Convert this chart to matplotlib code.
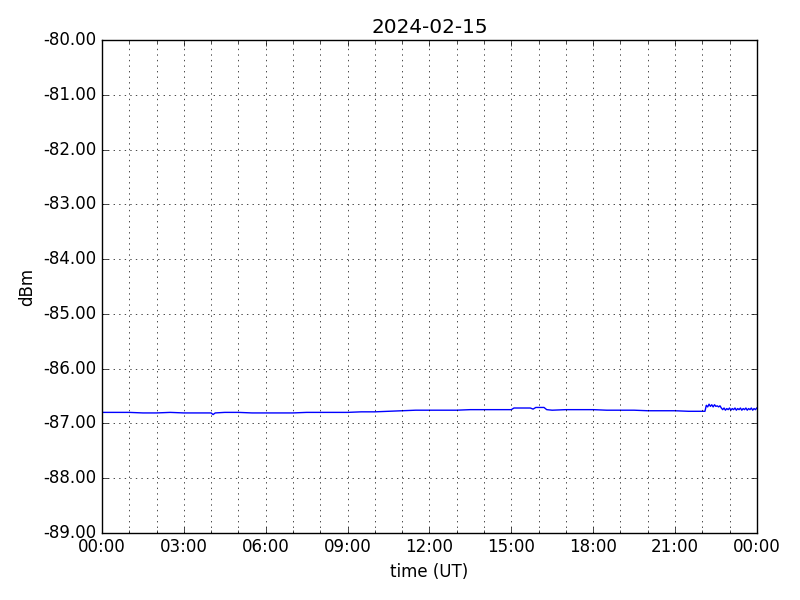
import matplotlib
matplotlib.use("Agg")
import matplotlib.pyplot as plt
import matplotlib.dates as mdates
from matplotlib.ticker import FormatStrFormatter
import pandas as pd

day = "2024-02-15"

# hours since 00:00 UT and received level (dBm)
hours = [0.0, 0.5, 1.0, 1.5, 2.0, 2.5, 3.0, 3.5, 4.0, 4.07, 4.15, 4.5,
         5.0, 5.5, 6.0, 6.5, 7.0, 7.5, 8.0, 8.5, 9.0, 9.5, 10.0, 10.5,
         11.0, 11.5, 12.0, 12.5, 13.0, 13.5, 14.0, 14.5, 15.0, 15.1, 15.5,
         15.7, 15.8, 15.9, 16.2, 16.3, 16.5, 17.0, 17.5, 18.0, 18.5, 19.0,
         19.5, 20.0, 20.5, 21.0, 21.5, 22.0, 22.1, 22.15, 22.2, 22.25,
         22.3, 22.35, 22.4, 22.45, 22.5, 22.55, 22.6, 22.65, 22.7, 22.75,
         22.8, 22.85, 22.9, 22.95, 23.0, 23.05, 23.1, 23.15, 23.2, 23.25,
         23.3, 23.35, 23.4, 23.45, 23.5, 23.55, 23.6, 23.65, 23.7, 23.75,
         23.8, 23.85, 23.9, 23.95, 24.0]
level = [-86.80, -86.80, -86.80, -86.81, -86.81, -86.80, -86.81, -86.81,
         -86.81, -86.84, -86.81, -86.80, -86.80, -86.81, -86.81, -86.81,
         -86.81, -86.80, -86.80, -86.80, -86.80, -86.79, -86.79, -86.78,
         -86.77, -86.76, -86.76, -86.76, -86.76, -86.75, -86.75, -86.75,
         -86.75, -86.72, -86.72, -86.72, -86.74, -86.71, -86.71, -86.75,
         -86.76, -86.75, -86.75, -86.75, -86.76, -86.76, -86.76, -86.77,
         -86.77, -86.77, -86.78, -86.78, -86.78, -86.67, -86.70, -86.65,
         -86.69, -86.66, -86.70, -86.66, -86.69, -86.68, -86.70, -86.68,
         -86.72, -86.75, -86.72, -86.76, -86.73, -86.75, -86.72, -86.76,
         -86.73, -86.75, -86.72, -86.76, -86.73, -86.75, -86.72, -86.76,
         -86.73, -86.75, -86.72, -86.76, -86.73, -86.75, -86.72, -86.76,
         -86.73, -86.75, -86.72]

plt.style.use("classic")
t0 = pd.Timestamp(day)
times = [t0 + pd.Timedelta(hours=h) for h in hours]

fig, ax = plt.subplots(figsize=(8, 6), dpi=100)
fig.patch.set_facecolor("white")
fig.subplots_adjust(left=0.1275, right=0.946, top=0.933, bottom=0.112)
ax.plot(times, level, "b-", linewidth=1.0)

ax.set_ylim(-89, -80)
ax.set_xlim(t0, t0 + pd.Timedelta(hours=24))
ax.yaxis.set_major_formatter(FormatStrFormatter("%.2f"))
ax.xaxis.set_major_locator(mdates.HourLocator(interval=3))
ax.xaxis.set_minor_locator(mdates.HourLocator())
ax.xaxis.set_major_formatter(mdates.DateFormatter("%H:%M"))
ax.grid(True, which="both", axis="x")
ax.grid(True, which="major", axis="y")

ax.set_title(day)
ax.set_xlabel("time (UT)")
ax.set_ylabel("dBm")

fig.savefig("out.png", dpi=100, facecolor="white")
